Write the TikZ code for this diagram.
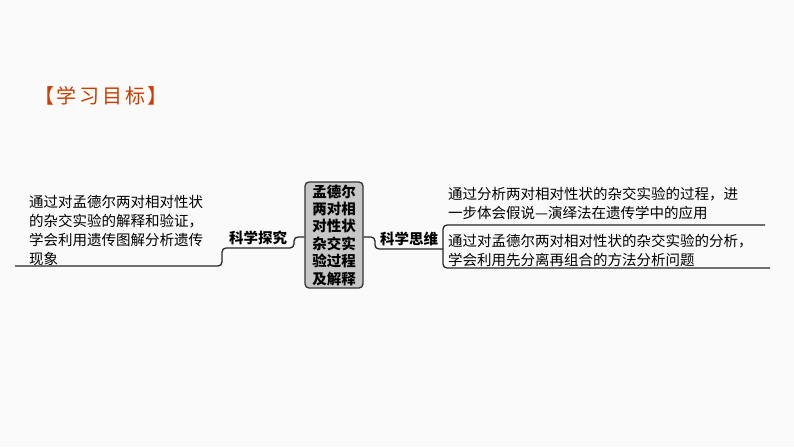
\documentclass[tikz,border=0pt]{standalone}
\usepackage{fontspec}
\newfontfamily\cjk{Noto Sans CJK SC}
\begin{document}
\begin{tikzpicture}[x=1pt,y=-1pt,
  txt/.style={font=\cjk\fontsize{14.5}{19}\selectfont,inner sep=0pt,anchor=north west,align=left},
  br/.style={line width=1.3pt,draw=black!85,rounded corners=4pt},
  lab/.style={font=\cjk\bfseries\fontsize{14.5}{17}\selectfont,inner sep=0pt}]
\fill[black!2] (0,0) rectangle (794,447);
\useasboundingbox (0,0) rectangle (794,447);
\node[font=\cjk\fontsize{20}{22}\selectfont,text=orange!60!red!80!black,anchor=west,inner sep=0pt] (h) at (34,96) {【\hspace{2pt}学\hspace{3pt}习\hspace{3pt}目\hspace{3pt}标\hspace{2pt}】};
\node[draw=black!80,line width=1.3pt,fill=black!22,rounded corners=4pt,minimum width=58,minimum height=106,inner sep=1pt,font=\cjk\bfseries\fontsize{14.5}{17.4}\selectfont,align=center] (c) at (334,235) {孟德尔\\两对相\\对性状\\杂交实\\验过程\\及解释};
\node[lab] (l) at (258,238) {科学探究};
\node[lab] (r) at (409,239) {科学思维};
\node[txt] (lt) at (29,195) {通过对孟德尔两对相对性状\\的杂交实验的解释和验证，\\学会利用遗传图解分析遗传\\现象};
\node[txt] (rt) at (448,187) {通过分析两对相对性状的杂交实验的过程，进\\一步体会假说—演绎法在遗传学中的应用};
\node[txt] (rb) at (448,234) {通过对孟德尔两对相对性状的杂交实验的分析，\\学会利用先分离再组合的方法分析问题};
\coordinate (c1) at (c.west|-0,237);
\coordinate (c2) at (c.east|-0,237);
\draw[br] (15,266) -- (222,266) -- (222,248) -- (294,248) -- (294,237) -- (c1);
\draw[br] (c2) -- (375,237) -- (375,249) -- (443,249);
\draw[br] (765,225) -- (443,225) -- (443,268) -- (770,268);
\end{tikzpicture}
\end{document}
